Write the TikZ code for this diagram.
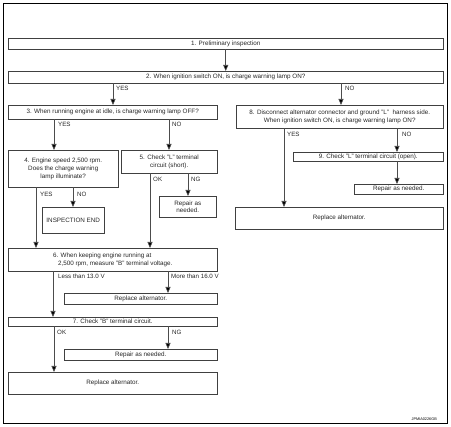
\documentclass[tikz,border=0pt]{standalone}
\usepackage{fontspec}
\setmainfont{Liberation Sans}
\usetikzlibrary{arrows.meta}
\begin{document}
\begin{tikzpicture}[x=1pt,y=-1pt,
  box/.style={draw=black!75, line width=0.5pt, inner sep=0pt, anchor=north west,
    font=\fontsize{6.3}{7.8}\selectfont, align=center, text=black!85},
  arr/.style={draw=black!70, line width=0.6pt, -{Triangle[width=5pt,length=6pt,fill=black]}},
  lbl/.style={anchor=west, inner sep=0pt, font=\fontsize{6.2}{7}\selectfont, text=black!85}]
\useasboundingbox (0,0) rectangle (451,427);
\draw[line width=0.9pt] (3,3) rectangle (447,423);

\node[box, minimum width=435pt, minimum height=11pt] (b1) at (8,38) {1. Preliminary inspection};
\node[box, minimum width=435pt, minimum height=12pt] (b2) at (8,71) {2. When ignition switch ON, is charge warning lamp ON?};
\node[box, minimum width=209pt, minimum height=14pt] (b3) at (8,105) {3. When running engine at idle, is charge warning lamp OFF?};
\node[box, minimum width=207pt, minimum height=23pt] (b8) at (236,105) {8. Disconnect alternator connector and ground "L"~~harness side.\\When ignition switch ON, is charge warning lamp ON?};
\node[box, minimum width=110pt, minimum height=37pt] (b4) at (8,150) {4. Engine speed 2,500 rpm.\\Does the charge warning\\lamp illuminate?};
\node[box, minimum width=96pt, minimum height=23pt] (b5) at (121,150) {5. Check "L" terminal\\circuit (short).};
\node[box, minimum width=57pt, minimum height=21pt] (b5r) at (159,196) {Repair as\\needed.};
\node[box, minimum width=62pt, minimum height=26pt] (bend) at (42,207) {INSPECTION END};
\node[box, minimum width=150pt, minimum height=9pt] (b9) at (293,152) {9. Check "L" terminal circuit (open).};
\node[box, minimum width=89pt, minimum height=10pt] (b9r) at (354,184) {Repair as needed.};
\node[box, minimum width=208pt, minimum height=22pt] (ra1) at (235,207) {Replace alternator.};
\node[box, minimum width=209pt, minimum height=23pt, align=left] (b6) at (8,248) {6. When keeping engine running at\\\hspace*{5pt}2,500 rpm, measure "B" terminal voltage.};
\node[box, minimum width=153pt, minimum height=11pt] (ra2) at (64,293) {Replace alternator.};
\node[box, minimum width=209pt, minimum height=9pt] (b7) at (8,317) {7. Check "B" terminal circuit.};
\node[box, minimum width=153pt, minimum height=11pt] (b7r) at (64,349) {Repair as needed.};
\node[box, minimum width=209pt, minimum height=22pt] (ra3) at (8,372) {Replace alternator.};

% connectors
\draw[arr] (b1.south) -- (b2.north);
\draw[arr] (113,0 |- b2.south) -- (113,0 |- b3.north);
\draw[arr] (341,0 |- b2.south) -- (341,0 |- b8.north);
\draw[arr] (54,0 |- b3.south) -- (54,0 |- b4.north);
\draw[arr] (169,0 |- b3.south) -- (169,0 |- b5.north);
\draw[arr] (36,0 |- b4.south) -- (36,0 |- b6.north);
\draw[arr] (73,0 |- b4.south) -- (73,0 |- bend.north);
\draw[arr] (150,0 |- b5.south) -- (150,0 |- b6.north);
\draw[arr] (188,0 |- b5.south) -- (188,0 |- b5r.north);
\draw[arr] (284,0 |- b8.south) -- (284,0 |- ra1.north);
\draw[arr] (397,0 |- b8.south) -- (397,0 |- b9.north);
\draw[arr] (397,0 |- b9.south) -- (397,0 |- b9r.north);
\draw[arr] (53,0 |- b6.south) -- (53,0 |- b7.north);
\draw[arr] (168,0 |- b6.south) -- (168,0 |- ra2.north);
\draw[arr] (54,0 |- b7.south) -- (54,0 |- ra3.north);
\draw[arr] (168,0 |- b7.south) -- (168,0 |- b7r.north);

% labels
\node[lbl] (l1) at (116,88) {YES};
\node[lbl] (l2) at (345,88) {NO};
\node[lbl] (l3) at (58,124) {YES};
\node[lbl] (l4) at (172,124) {NO};
\node[lbl] (l5) at (40,194) {YES};
\node[lbl] (l6) at (77,194) {NO};
\node[lbl] (l7) at (153,179) {OK};
\node[lbl] (l8) at (191,179) {NG};
\node[lbl] (l9) at (287,134) {YES};
\node[lbl] (l10) at (402,134) {NO};
\node[lbl] (l11) at (58,276) {Less than 13.0 V};
\node[lbl] (l12) at (171,276) {More than 16.0 V};
\node[lbl] (l13) at (57,332) {OK};
\node[lbl] (l14) at (172,332) {NG};
\node[anchor=east, inner sep=0pt, font=\fontsize{3.8}{4}\selectfont] (code) at (437,419) {JPMIA0226GB};
\end{tikzpicture}
\end{document}
